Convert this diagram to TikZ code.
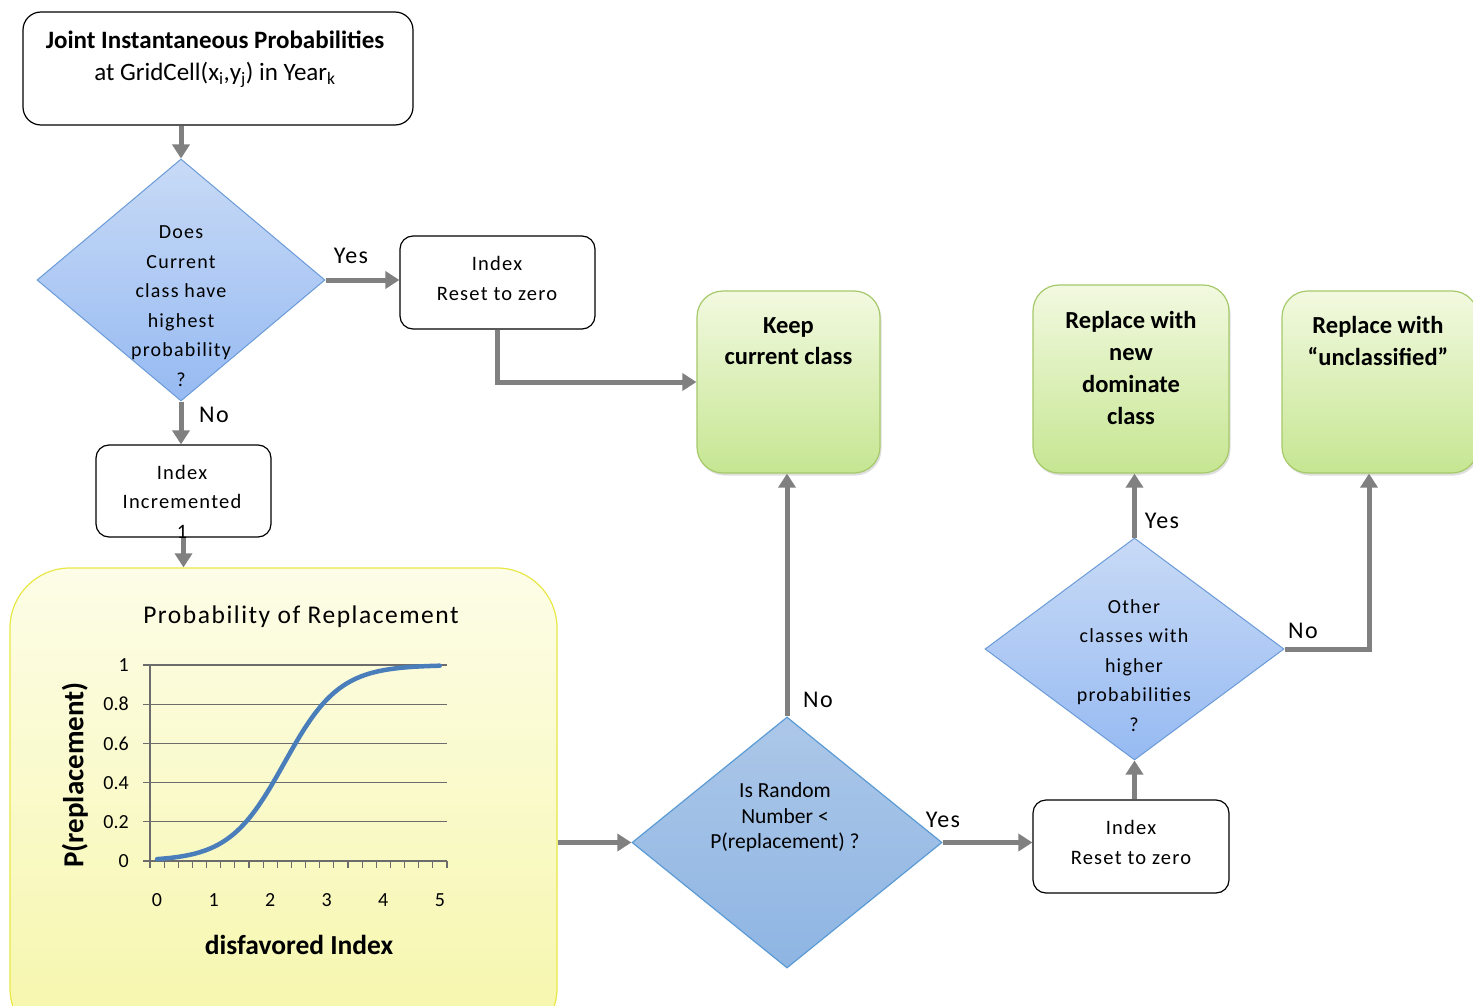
\documentclass[tikz,border=0pt]{standalone}
\usepackage{fontspec}
\setmainfont{Carlito}
\newfontfamily\spaced[LetterSpace=6]{Carlito}
\usetikzlibrary{arrows.meta,shapes.geometric,shadows}
\definecolor{arrowgray}{RGB}{128,128,128}
\definecolor{diaedge}{RGB}{106,155,216}
\definecolor{greenedge}{RGB}{166,201,106}
\definecolor{yellowedge}{RGB}{232,232,70}
\begin{document}
\begin{tikzpicture}[x=1pt,y=-1pt,
  flow/.style={draw=arrowgray,line width=5pt,-{Triangle[width=17pt,length=14pt]}},
  wbox/.style={draw=black,line width=1.2pt,fill=white,rounded corners=13pt,inner sep=0pt},
  gbox/.style={draw=greenedge,line width=1.2pt,rounded corners=26pt,top color={rgb,255:red,242;green,249;blue,224},bottom color={rgb,255:red,198;green,230;blue,146},drop shadow={opacity=0.25,shadow xshift=1.5pt,shadow yshift=-2.5pt},inner sep=0pt},
  dia/.style={diamond,draw=diaedge,line width=1pt,inner sep=0pt,top color={rgb,255:red,200;green,218;blue,246},bottom color={rgb,255:red,150;green,186;blue,242}},
  lbl/.style={font=\spaced\fontsize{24}{28}\selectfont,inner sep=0pt},
  btxt/.style={font=\bfseries\fontsize{24.5}{31.5}\selectfont,align=center,inner sep=0pt},
  stxt/.style={font=\spaced\fontsize{20}{29.5}\selectfont,align=center,inner sep=0pt},
  tick/.style={font=\fontsize{20}{22}\selectfont,inner sep=0pt}
]
\useasboundingbox (0,0) rectangle (1473,1006);
\clip (0,0) rectangle (1473,1006);
\fill[white] (0,0) rectangle (1473,1006);

% top box
\node[wbox,rounded corners=18pt,minimum width=390pt,minimum height=113pt] (top) at (218,68.5) {};
\node[font=\fontsize{25}{32}\selectfont,align=center,inner sep=0pt] (toptxt) at (215,59)
  {\textbf{Joint Instantaneous Probabilities}\\at GridCell(x\textsubscript{i},y\textsubscript{j}) in Year\textsubscript{k}};

% diamond 1
\node[dia,minimum width=288pt,minimum height=242pt] (d1) at (181,280) {};
\node[stxt] (d1txt) at (181,306) {Does\\Current\\class have\\highest\\probability\\?};

% Index reset 1
\node[wbox,minimum width=195pt,minimum height=93pt] (r1) at (497.5,282.5) {};
\node[stxt,font=\spaced\fontsize{20.5}{30}\selectfont] (r1txt) at (497,278) {Index\\Reset to zero};

% Keep box
\node[gbox,minimum width=183pt,minimum height=182pt] (keep) at (788.5,382) {};
\node[btxt] (keeptxt) at (788.5,341) {Keep\\current class};

% Index incremented
\node[wbox,minimum width=175pt,minimum height=92pt] (inc) at (183.5,491) {};
\node[stxt,font=\spaced\fontsize{20.5}{29.5}\selectfont] (inctxt) at (182,501.5) {Index\\Incremented\\1};

% chart box
\node[draw=yellowedge,line width=1.2pt,rounded corners=60pt,top color={rgb,255:red,253;green,253;blue,232},bottom color={rgb,255:red,246;green,246;blue,170},minimum width=547pt,minimum height=480pt,inner sep=0pt] (chart) at (283.5,808) {};
\node[font=\spaced\fontsize{25.5}{28}\selectfont,inner sep=0pt] (ctitle) at (301,617) {Probability of Replacement};
% grid
\foreach \v/\t in {0/0,0.2/0.2,0.4/0.4,0.6/0.6,0.8/0.8,1/1}{
  \draw[gray!85!black,line width=1.1pt] (143,{861-196*\v}) -- (447,{861-196*\v});
  \node[tick,anchor=east] (yl\t) at (129,{861-196*\v}) {\t};
}
\draw[gray!85!black,line width=1.1pt] (150,665) -- (150,868);
\foreach \k in {0,...,21}{
  \draw[gray!85!black,line width=1.1pt] ({150+14.143*\k},861) -- ({150+14.143*\k},868);
}
\foreach \k in {0,...,5}{
  \node[tick] (xl\k) at ({157+56.57*\k},900) {\k};
}
\draw[color={rgb,255:red,74;green,126;blue,187},line width=4.5pt,line cap=round] plot[domain=0:5,samples=80,smooth] ({157+56.57*\x},{861-196/(1+exp(-2.05*(\x-2.25)))});
\node[font=\bfseries\fontsize{29}{32}\selectfont,rotate=90,inner sep=0pt] (ylab) at (75,775) {P(replacement)};
\node[font=\bfseries\fontsize{27.5}{30}\selectfont,inner sep=0pt] (xlab) at (299,945) {disfavored Index};

% diamond 2
\node[diamond,draw={rgb,255:red,91;green,155;blue,213},line width=1.2pt,inner sep=0pt,top color={rgb,255:red,172;green,199;blue,232},bottom color={rgb,255:red,142;green,181;blue,227},minimum width=310pt,minimum height=251pt] (d2) at (787,842.5) {};
\node[font=\fontsize{21.5}{25.5}\selectfont,align=center,inner sep=0pt] (d2txt) at (785,817.5) {Is Random\\Number <\\P(replacement) ?};

% Index reset 2
\node[wbox,minimum width=196pt,minimum height=93pt] (r2) at (1131,846.5) {};
\node[stxt,font=\spaced\fontsize{20.5}{30}\selectfont] (r2txt) at (1131,842.5) {Index\\Reset to zero};

% diamond 3
\node[dia,minimum width=299pt,minimum height=222pt] (d3) at (1134.5,649) {};
\node[stxt] (d3txt) at (1134,665.5) {Other\\classes with\\higher\\probabilities\\?};

% replace boxes
\node[gbox,minimum width=196pt,minimum height=188pt] (rep1) at (1131,379) {};
\node[btxt,font=\bfseries\fontsize{24.5}{32}\selectfont] (rep1txt) at (1131,368) {Replace with\\new\\dominate\\class};
\node[gbox,minimum width=196pt,minimum height=182pt] (rep2) at (1380,382) {};
\node[btxt] (rep2txt) at (1378,341) {Replace with\\“unclassified”};

% connectors
\draw[flow] (top.south -| d1.north) -- (d1.north);
\draw[flow] (d1.east) -- (r1.west |- d1.east);
\node[lbl] (yes1) at (351,256) {Yes};
\draw[flow] (r1.south) -- (r1.south |- keep.west) -- (keep.west);
\draw[flow] (d1.south) -- (inc.north -| d1.south);
\node[lbl] (no1) at (214,415) {No};
\draw[flow] (inc.south) -- (chart.north -| inc.south);
\draw[flow] (chart.east |- d2.west) -- (d2.west);
\draw[flow] (d2.north) -- (keep.south -| d2.north);
\node[lbl] (no2) at (818,700) {No};
\draw[flow] (d2.east) -- (r2.west |- d2.east);
\node[lbl] (yes2) at (943,820) {Yes};
\draw[flow] (r2.north -| d3.south) -- (d3.south);
\draw[flow] (d3.north) -- (rep1.south -| d3.north);
\node[lbl] (yes3) at (1162,521) {Yes};
\coordinate (bend) at (1369,649);
\draw[flow] (d3.east) -- (bend) -- (rep2.south -| bend);
\node[lbl] (no3) at (1303,631) {No};
\end{tikzpicture}
\end{document}
